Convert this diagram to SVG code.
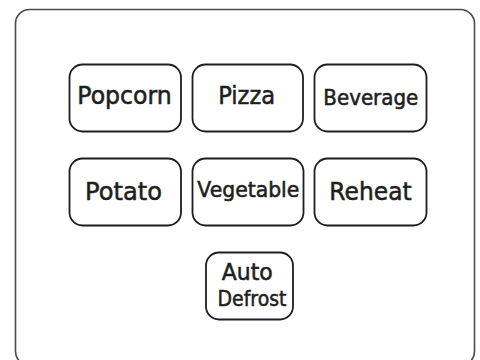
<svg xmlns="http://www.w3.org/2000/svg" width="480" height="360" viewBox="0 0 480 360">
  <style>
    .frame { fill: #ffffff; stroke: #4a4a4a; stroke-width: 1.6; }
    .key { fill: #ffffff; stroke: #1e1e1e; stroke-width: 1.8; }
    .lbl { font-family: "DejaVu Sans", "Liberation Sans", sans-serif; fill: #1e1e1e; stroke: #1e1e1e; stroke-width: 0.55; text-anchor: middle; }
  </style>
  <rect width="480" height="360" fill="#ffffff"/>
  <rect id="panel" class="frame" x="15.5" y="9.5" width="459" height="356" rx="14" ry="14"/>
  <g id="connectors"></g>
  <g id="popcorn">
    <rect class="key" x="69.5" y="64.5" width="111.5" height="67" rx="13"/>
    <text class="lbl" x="124.5" y="103.5" font-size="24.5" textLength="94.5" lengthAdjust="spacingAndGlyphs">Popcorn</text>
  </g>
  <g id="pizza">
    <rect class="key" x="192.5" y="64.5" width="110.5" height="67" rx="13"/>
    <text class="lbl" x="246.7" y="103.5" font-size="24" textLength="57" lengthAdjust="spacingAndGlyphs">Pizza</text>
  </g>
  <g id="beverage">
    <rect class="key" x="314.5" y="64.5" width="112" height="67" rx="13"/>
    <text class="lbl" x="370.8" y="105" font-size="21" textLength="95" lengthAdjust="spacingAndGlyphs">Beverage</text>
  </g>
  <g id="potato">
    <rect class="key" x="69.5" y="158.5" width="111.5" height="67" rx="13"/>
    <text class="lbl" x="123.5" y="200" font-size="25" textLength="77" lengthAdjust="spacingAndGlyphs">Potato</text>
  </g>
  <g id="vegetable">
    <rect class="key" x="192.5" y="158.5" width="111" height="67" rx="13"/>
    <text class="lbl" x="248.3" y="197" font-size="20.5" textLength="102" lengthAdjust="spacingAndGlyphs">Vegetable</text>
  </g>
  <g id="reheat">
    <rect class="key" x="314.5" y="158.5" width="112" height="67" rx="13"/>
    <text class="lbl" x="370.5" y="200" font-size="24.5" textLength="82.3" lengthAdjust="spacingAndGlyphs">Reheat</text>
  </g>
  <g id="auto-defrost">
    <rect class="key" x="206" y="252.5" width="87" height="67" rx="13"/>
    <text class="lbl" x="247.2" y="280" font-size="22.5" textLength="51" lengthAdjust="spacingAndGlyphs">Auto</text>
    <text class="lbl" x="252" y="305.5" font-size="21.5" textLength="69" lengthAdjust="spacingAndGlyphs">Defrost</text>
  </g>
</svg>
